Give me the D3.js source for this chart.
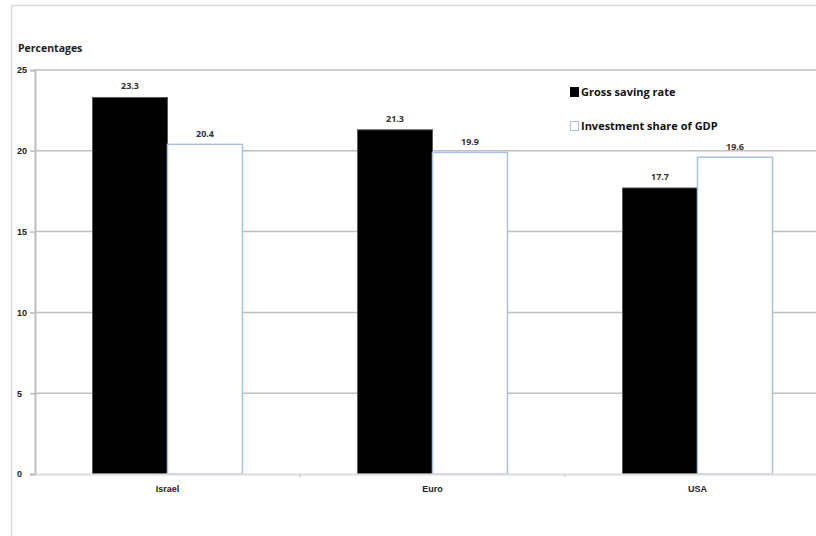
<!DOCTYPE html>
<html>
<head>
<meta charset="utf-8">
<script src="https://cdn.jsdelivr.net/npm/d3@7"></script>
<style>
  html, body { margin: 0; padding: 0; background: #fff; }
  svg { display: block; font-family: "Open Sans", "Liberation Sans", Arial, sans-serif; }
</style>
</head>
<body>
<svg id="chart" width="816" height="536"></svg>
<script>
// Gross saving and investment, as a share of GDP
const categories = ["Israel", "Euro", "USA"];
const seriesNames = ["Gross saving rate", "Investment share of GDP"];
const grossSaving = [23.3, 21.3, 17.7];
const investmentShare = [20.4, 19.9, 19.6];
const yTicks = [0, 5, 10, 15, 20, 25];

const svg = d3.select("#chart");
const W = 816, H = 536;
const plot = { left: 35, right: 830, top: 70, bottom: 474 };

// Outer chart frame (runs past the right edge)
svg.append("line").attr("x1", 11.5).attr("x2", W).attr("y1", 5.5).attr("y2", 5.5)
  .attr("stroke", "#d9d9d9").attr("stroke-width", 1.5);
svg.append("line").attr("x1", 11.5).attr("x2", 11.5).attr("y1", 5.5).attr("y2", H)
  .attr("stroke", "#d9d9d9").attr("stroke-width", 1.5);

const x = d3.scaleBand().domain(categories).range([plot.left, plot.right]);
const inner = d3.scaleBand().domain(seriesNames).range([0, 150]);
const y = d3.scaleLinear().domain([0, 25]).range([plot.bottom, plot.top]);

// Horizontal gridlines
svg.append("g").selectAll("line").data(yTicks.filter(t => t > 0)).join("line")
  .attr("x1", plot.left).attr("x2", W)
  .attr("y1", d => y(d)).attr("y2", d => y(d))
  .attr("stroke", "#bfbfbf").attr("stroke-width", 1.5);

// Y axis
const yAxis = svg.append("g").attr("transform", `translate(${plot.left},0)`)
  .call(d3.axisLeft(y).tickValues(yTicks).tickSize(5).tickPadding(8).tickFormat(d3.format("d")));
yAxis.select(".domain").attr("stroke", "#bdbdbd").attr("stroke-width", 2);
yAxis.selectAll(".tick line").attr("stroke", "#bdbdbd").attr("stroke-width", 1.5);
yAxis.selectAll(".tick text").attr("fill", "#222").attr("font-size", 9).attr("font-weight", "bold")
  .attr("text-anchor", "start").attr("x", 17 - plot.left);

// Bars
const groups = svg.append("g").selectAll("g").data(categories).join("g")
  .attr("transform", d => `translate(${x(d) + (x.bandwidth() - 150) / 2},0)`);

groups.append("rect")
  .attr("x", inner(seriesNames[0])).attr("width", inner.bandwidth())
  .attr("y", (d, i) => y(grossSaving[i]))
  .attr("height", (d, i) => y(0) - y(grossSaving[i]))
  .attr("fill", "#000").attr("stroke", "#5a5a5a").attr("stroke-width", 1);

groups.append("rect")
  .attr("x", inner(seriesNames[1])).attr("width", inner.bandwidth())
  .attr("y", (d, i) => y(investmentShare[i]))
  .attr("height", (d, i) => y(0) - y(investmentShare[i]))
  .attr("fill", "#fff").attr("stroke", "#a9c2e2").attr("stroke-width", 1.5);

// Value labels
groups.append("text")
  .attr("x", inner(seriesNames[0]) + inner.bandwidth() / 2)
  .attr("y", (d, i) => y(grossSaving[i]) - 8)
  .attr("text-anchor", "middle").attr("font-size", 9).attr("font-weight", "bold").attr("fill", "#333")
  .text((d, i) => grossSaving[i].toFixed(1));
groups.append("text")
  .attr("x", inner(seriesNames[1]) + inner.bandwidth() / 2)
  .attr("y", (d, i) => y(investmentShare[i]) - 7)
  .attr("text-anchor", "middle").attr("font-size", 9).attr("font-weight", "bold").attr("fill", "#333")
  .text((d, i) => investmentShare[i].toFixed(1));

// X axis
const xAxis = svg.append("g").attr("transform", `translate(0,${plot.bottom})`)
  .call(d3.axisBottom(x).tickSize(0).tickPadding(12));
xAxis.select(".domain").attr("stroke", "#dcdcdc").attr("stroke-width", 2);
xAxis.selectAll(".tick text").attr("fill", "#222").attr("font-size", 9).attr("font-weight", "bold");
// small separators between categories
svg.append("g").selectAll("line").data(categories.slice(1)).join("line")
  .attr("x1", d => x(d)).attr("x2", d => x(d))
  .attr("y1", plot.bottom).attr("y2", plot.bottom + 3)
  .attr("stroke", "#bdbdbd").attr("stroke-width", 1);

// Axis title
svg.append("text").attr("x", 18).attr("y", 52)
  .attr("font-size", 10.5).attr("font-weight", "bold").attr("fill", "#222")
  .text("Percentages");

// Legend
const legend = svg.append("g").attr("transform", "translate(570,0)");
const legendRows = [
  { name: seriesNames[0], y: 92, fill: "#000", stroke: "#000" },
  { name: seriesNames[1], y: 126, fill: "#fff", stroke: "#a9c2e2" }
];
legendRows.forEach(r => {
  legend.append("rect").attr("x", 0.5).attr("y", r.y - 4.5).attr("width", 8).attr("height", 9)
    .attr("fill", r.fill).attr("stroke", r.stroke).attr("stroke-width", 1);
  legend.append("text").attr("x", 11).attr("y", r.y).attr("dy", "0.35em")
    .attr("font-size", 11).attr("font-weight", "bold").attr("fill", "#111").text(r.name);
});
</script>
</body>
</html>
